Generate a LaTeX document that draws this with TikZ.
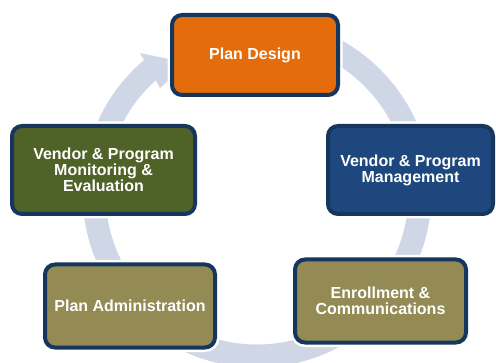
\documentclass[tikz,border=0pt]{standalone}
\usepackage{fontspec}
\setmainfont{Liberation Sans}
\definecolor{ringc}{RGB}{207,215,231}
\definecolor{boxline}{RGB}{22,54,94}
\definecolor{orangec}{RGB}{228,108,10}
\definecolor{navyc}{RGB}{30,72,125}
\definecolor{olivec}{RGB}{148,138,84}
\definecolor{greenc}{RGB}{79,98,40}
\begin{document}
\begin{tikzpicture}[x=1pt,y=1pt,
  box/.style={draw=boxline, line width=4pt, rounded corners=10pt,
    text=white, font=\bfseries\fontsize{16}{16}\selectfont,
    align=center, inner sep=0pt,
    preaction={draw=white, line width=9pt}},
]
\useasboundingbox (0,0) rectangle (496,362);
% ring arrow
\begin{scope}[shift={(257,169)}]
  \fill[ringc] (128:174.5pt) arc[start angle=128, end angle=455, radius=174.5pt]
     -- (455:151.5pt) arc[start angle=455, end angle=128, radius=151.5pt] -- cycle;
\end{scope}
\coordinate (h1) at (140,309);
\coordinate (h2) at (188,299);
\coordinate (h3) at (160,274);
\fill[ringc] (h1) -- (h2) -- (h3) -- cycle;
% boxes
\node[box, fill=orangec, minimum width=166, minimum height=80] (pd) at (255,307) {Plan Design};
\node[box, fill=navyc, minimum width=165, minimum height=88] (vm) at (410.5,192) {Vendor \& Program\\Management};
\node[box, fill=olivec, minimum width=171, minimum height=83] (ec) at (380.5,61) {Enrollment \&\\Communications};
\node[box, fill=olivec, minimum width=170, minimum height=83] (pa) at (130,56) {Plan Administration};
\node[box, fill=greenc, minimum width=183, minimum height=88] (vme) at (103.5,192) {Vendor \& Program\\Monitoring \&\\Evaluation};
\end{tikzpicture}
\end{document}
